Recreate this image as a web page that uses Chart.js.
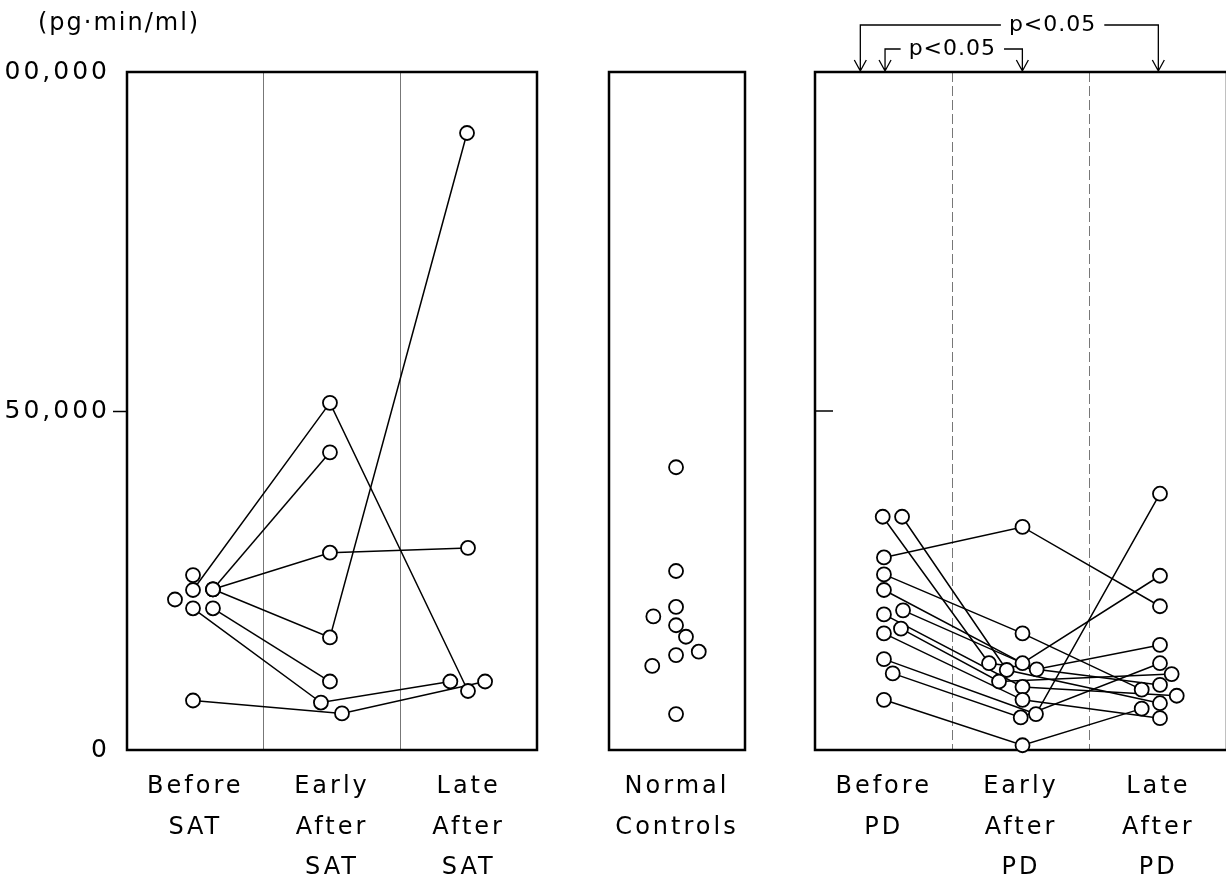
<!DOCTYPE html>
<html><head><meta charset="utf-8">
<script src="https://cdn.jsdelivr.net/npm/chart.js@4.4.1/dist/chart.umd.min.js"></script>
<style>
html,body{margin:0;padding:0;background:#fff;overflow:hidden;width:1226px;height:875px;position:relative;}
canvas{position:absolute;top:0;}
#c1{left:-30px;}
#c2{left:559px;}
#c3{left:790px;}
</style></head><body>
<canvas id="c1" width="572" height="875"></canvas>
<canvas id="c2" width="240" height="875"></canvas>
<canvas id="c3" width="450" height="875"></canvas>
<script>
// ---------- data ----------
const yUnit = '(pg\u00B7min/ml)';
const yTickValues = [0, 50000, 100000];
const yTickLabels = ['0', '50,000', '100,000'];

const satCategories = [['Before', 'SAT'], ['Early', 'After', 'SAT'], ['Late', 'After', 'SAT']];
const satBefore    = [23600, 23700, 23700, 23700, 20900, 20900, 7300, 25800, 22200];
const satBeforePos = [0.483, 0.629, 0.629, 0.629, 0.629, 0.483, 0.483, 0.483, 0.351];
const satEarly     = [51200, 43900, 29100, 16600, 10100, 7000, 5400, null, null];
const satEarlyPos  = [1.485, 1.485, 1.485, 1.485, 1.485, 1.419, 1.573, null, null];
const satLate      = [8700, null, 29800, 91000, null, 10100, 10100, null, null];
const satLatePos   = [2.495, null, 2.495, 2.488, null, 2.366, 2.62, null, null];

const normalCategories = [['Normal', 'Controls']];
const normalValues = [41700, 26400, 21100, 19700, 18400, 16700, 14500, 14000, 12400, 5300];
const normalPos    = [0.493, 0.493, 0.493, 0.326, 0.493, 0.566, 0.66, 0.493, 0.318, 0.493];

const pdCategories = [['Before', 'PD'], ['Early', 'After', 'PD'], ['Late', 'After', 'PD']];
const pdBefore    = [34400, 34400, 28400, 25900, 23600, 20600, 20000, 17900, 17200, 13400, 11300, 7400];
const pdBeforePos = [0.493, 0.634, 0.502, 0.502, 0.502, 0.641, 0.502, 0.626, 0.502, 0.502, 0.566, 0.502];
const pdEarly     = [12800, 11800, 32900, 17200, 12800, 11900, 9300, 10100, 7400, 5300, 4800, 700];
const pdEarlyPos  = [1.267, 1.396, 1.511, 1.511, 1.511, 1.614, 1.511, 1.34, 1.511, 1.609, 1.498, 1.511];
const pdLate      = [9600, 6900, 21200, 8900, 25700, 15500, 8000, 11200, 4700, 37800, 12800, 6100];
const pdLatePos   = [2.512, 2.512, 2.512, 2.379, 2.512, 2.512, 2.634, 2.597, 2.512, 2.512, 2.512, 2.379];

const pdComparisons = [
  { from: 0.33, to: 2.5, label: 'p<0.05' },  // Before vs Late
  { from: 0.51, to: 1.51, label: 'p<0.05' }  // Before vs Early
];

// ---------- helpers ----------
const FONT = "'DejaVu Sans', sans-serif";
const TRANSPARENT = 'rgba(0,0,0,0)';

function buildDatasets(groups) {
  const n = groups[0][0].length;
  const sets = [];
  const allPts = [];
  for (let i = 0; i < n; i++) {
    const pts = [];
    groups.forEach(([vals, pos]) => {
      if (vals[i] != null) pts.push({ x: pos[i], y: vals[i] });
    });
    pts.forEach(p => allPts.push(p));
    if (pts.length > 1) {
      sets.push({ data: pts, showLine: true, borderColor: '#000', borderWidth: 1.5,
        pointRadius: 0, pointHoverRadius: 0, order: 2, clip: false });
    }
  }
  sets.push({ data: allPts, showLine: false, pointRadius: 7, pointHoverRadius: 7,
    pointBackgroundColor: '#fff', pointBorderColor: '#000', pointBorderWidth: 1.8,
    order: 0, clip: false });
  return sets;
}

const boxPlugin = {
  id: 'panelBox',
  beforeDraw(chart) { chart.ctx.letterSpacing = '3px'; },
  beforeDatasetsDraw(chart) {
    const { ctx, chartArea: a } = chart;
    ctx.save();
    ctx.strokeStyle = '#000';
    ctx.lineWidth = 2.5;
    ctx.strokeRect(a.left, a.top, a.right - a.left, a.bottom - a.top);
    ctx.restore();
  }
};

function xScales(max, categories, gridColor, dash) {
  const vals = [];
  for (let v = 0; v <= max; v++) vals.push(v);
  return {
    x: {
      type: 'linear', min: 0, max: max, position: 'bottom',
      afterBuildTicks: s => { s.ticks = vals.map(v => ({ value: v })); },
      ticks: { display: false },
      grid: { drawTicks: false, lineWidth: 1,
        color: c => (c.tick && c.tick.value > 0 && c.tick.value < max) ? gridColor : TRANSPARENT },
      border: { display: false, dash: dash },
      afterFit: s => { s.height = 0; }
    },
    xc: {
      type: 'category', labels: categories, position: 'bottom', offset: true,
      grid: { display: false }, border: { display: false },
      ticks: { color: '#000', font: { family: FONT, size: 24, lineHeight: 1.68 },
        padding: 9, maxRotation: 0, minRotation: 0, autoSkip: false },
      afterFit: s => { s.height = 125; }
    }
  };
}

function yScale(showLabels) {
  return {
    type: 'linear', min: 0, max: 100000, display: showLabels,
    afterBuildTicks: s => { s.ticks = yTickValues.map(v => ({ value: v })); },
    ticks: { color: '#000', font: { family: FONT, size: 25 }, padding: 3,
      callback: v => yTickLabels[yTickValues.indexOf(v)] },
    grid: { drawOnChartArea: false, tickLength: 14, tickWidth: 1.5,
      tickColor: c => (c.tick && c.tick.value === 50000) ? '#000' : TRANSPARENT },
    border: { display: false },
    afterFit: s => { s.width = showLabels ? 157 : 0; }
  };
}

function baseOptions(padding, scales) {
  return {
    responsive: false, animation: false, events: [],
    layout: { padding: padding, autoPadding: false },
    plugins: { legend: { display: false }, tooltip: { enabled: false }, title: { display: false } },
    scales: scales
  };
}

// ---------- SAT panel ----------
const unitPlugin = {
  id: 'unitLabel',
  afterDraw(chart) {
    const ctx = chart.ctx;
    ctx.save();
    ctx.letterSpacing = '2px';
    ctx.fillStyle = '#000';
    ctx.font = '24px ' + FONT;
    ctx.textAlign = 'left';
    ctx.textBaseline = 'middle';
    ctx.fillText(yUnit, 68, 24);
    ctx.restore();
  }
};

new Chart(document.getElementById('c1'), {
  type: 'scatter',
  data: { datasets: buildDatasets([[satBefore, satBeforePos], [satEarly, satEarlyPos], [satLate, satLatePos]]) },
  options: baseOptions({ top: 72, left: 0, right: 5, bottom: 0 },
    Object.assign(xScales(3, satCategories, '#777', []), { y: yScale(true) })),
  plugins: [boxPlugin, unitPlugin]
});

// ---------- Normal controls panel ----------
new Chart(document.getElementById('c2'), {
  type: 'scatter',
  data: { datasets: buildDatasets([[normalValues, normalPos]]) },
  options: baseOptions({ top: 72, left: 50, right: 54, bottom: 0 },
    Object.assign(xScales(1, normalCategories, '#777', []), { y: yScale(false) })),
  plugins: [boxPlugin]
});

// ---------- PD panel ----------
const pdExtras = {
  id: 'pdExtras',
  afterDraw(chart) {
    const { ctx, chartArea: a, scales } = chart;
    const xs = scales.x, ys = scales.y;
    ctx.save();
    const ty = ys.getPixelForValue(yTickValues[1]);
    ctx.strokeStyle = '#000';
    ctx.lineWidth = 1.5;
    ctx.beginPath(); ctx.moveTo(a.left, ty); ctx.lineTo(a.left + 18, ty); ctx.stroke();
    const layout = [{ y: 25, labelAt: 1.73 }, { y: 49, labelAt: 1.0 }];
    ctx.font = '22px ' + FONT;
    ctx.letterSpacing = '1px';
    ctx.fillStyle = '#000';
    ctx.textAlign = 'center';
    ctx.textBaseline = 'middle';
    ctx.lineWidth = 1.3;
    pdComparisons.forEach((c, i) => {
      const L = layout[i];
      const x1 = xs.getPixelForValue(c.from), x2 = xs.getPixelForValue(c.to);
      const xl = xs.getPixelForValue(L.labelAt);
      const w = ctx.measureText(c.label).width;
      const g = w / 2 + 8;
      ctx.beginPath();
      ctx.moveTo(x1, a.top - 1); ctx.lineTo(x1, L.y); ctx.lineTo(xl - g, L.y);
      ctx.moveTo(xl + g, L.y); ctx.lineTo(x2, L.y); ctx.lineTo(x2, a.top - 1);
      [x1, x2].forEach(x => { ctx.moveTo(x - 6, a.top - 12); ctx.lineTo(x, a.top - 1); ctx.lineTo(x + 6, a.top - 12); });
      ctx.stroke();
      ctx.fillText(c.label, xl, L.y);
    });
    ctx.restore();
  }
};

new Chart(document.getElementById('c3'), {
  type: 'scatter',
  data: { datasets: buildDatasets([[pdBefore, pdBeforePos], [pdEarly, pdEarlyPos], [pdLate, pdLatePos]]) },
  options: baseOptions({ top: 72, left: 25, right: 13, bottom: 0 },
    Object.assign(xScales(3, pdCategories, '#777', [10, 4]), { y: yScale(false) })),
  plugins: [boxPlugin, pdExtras]
});
</script>
</body></html>
